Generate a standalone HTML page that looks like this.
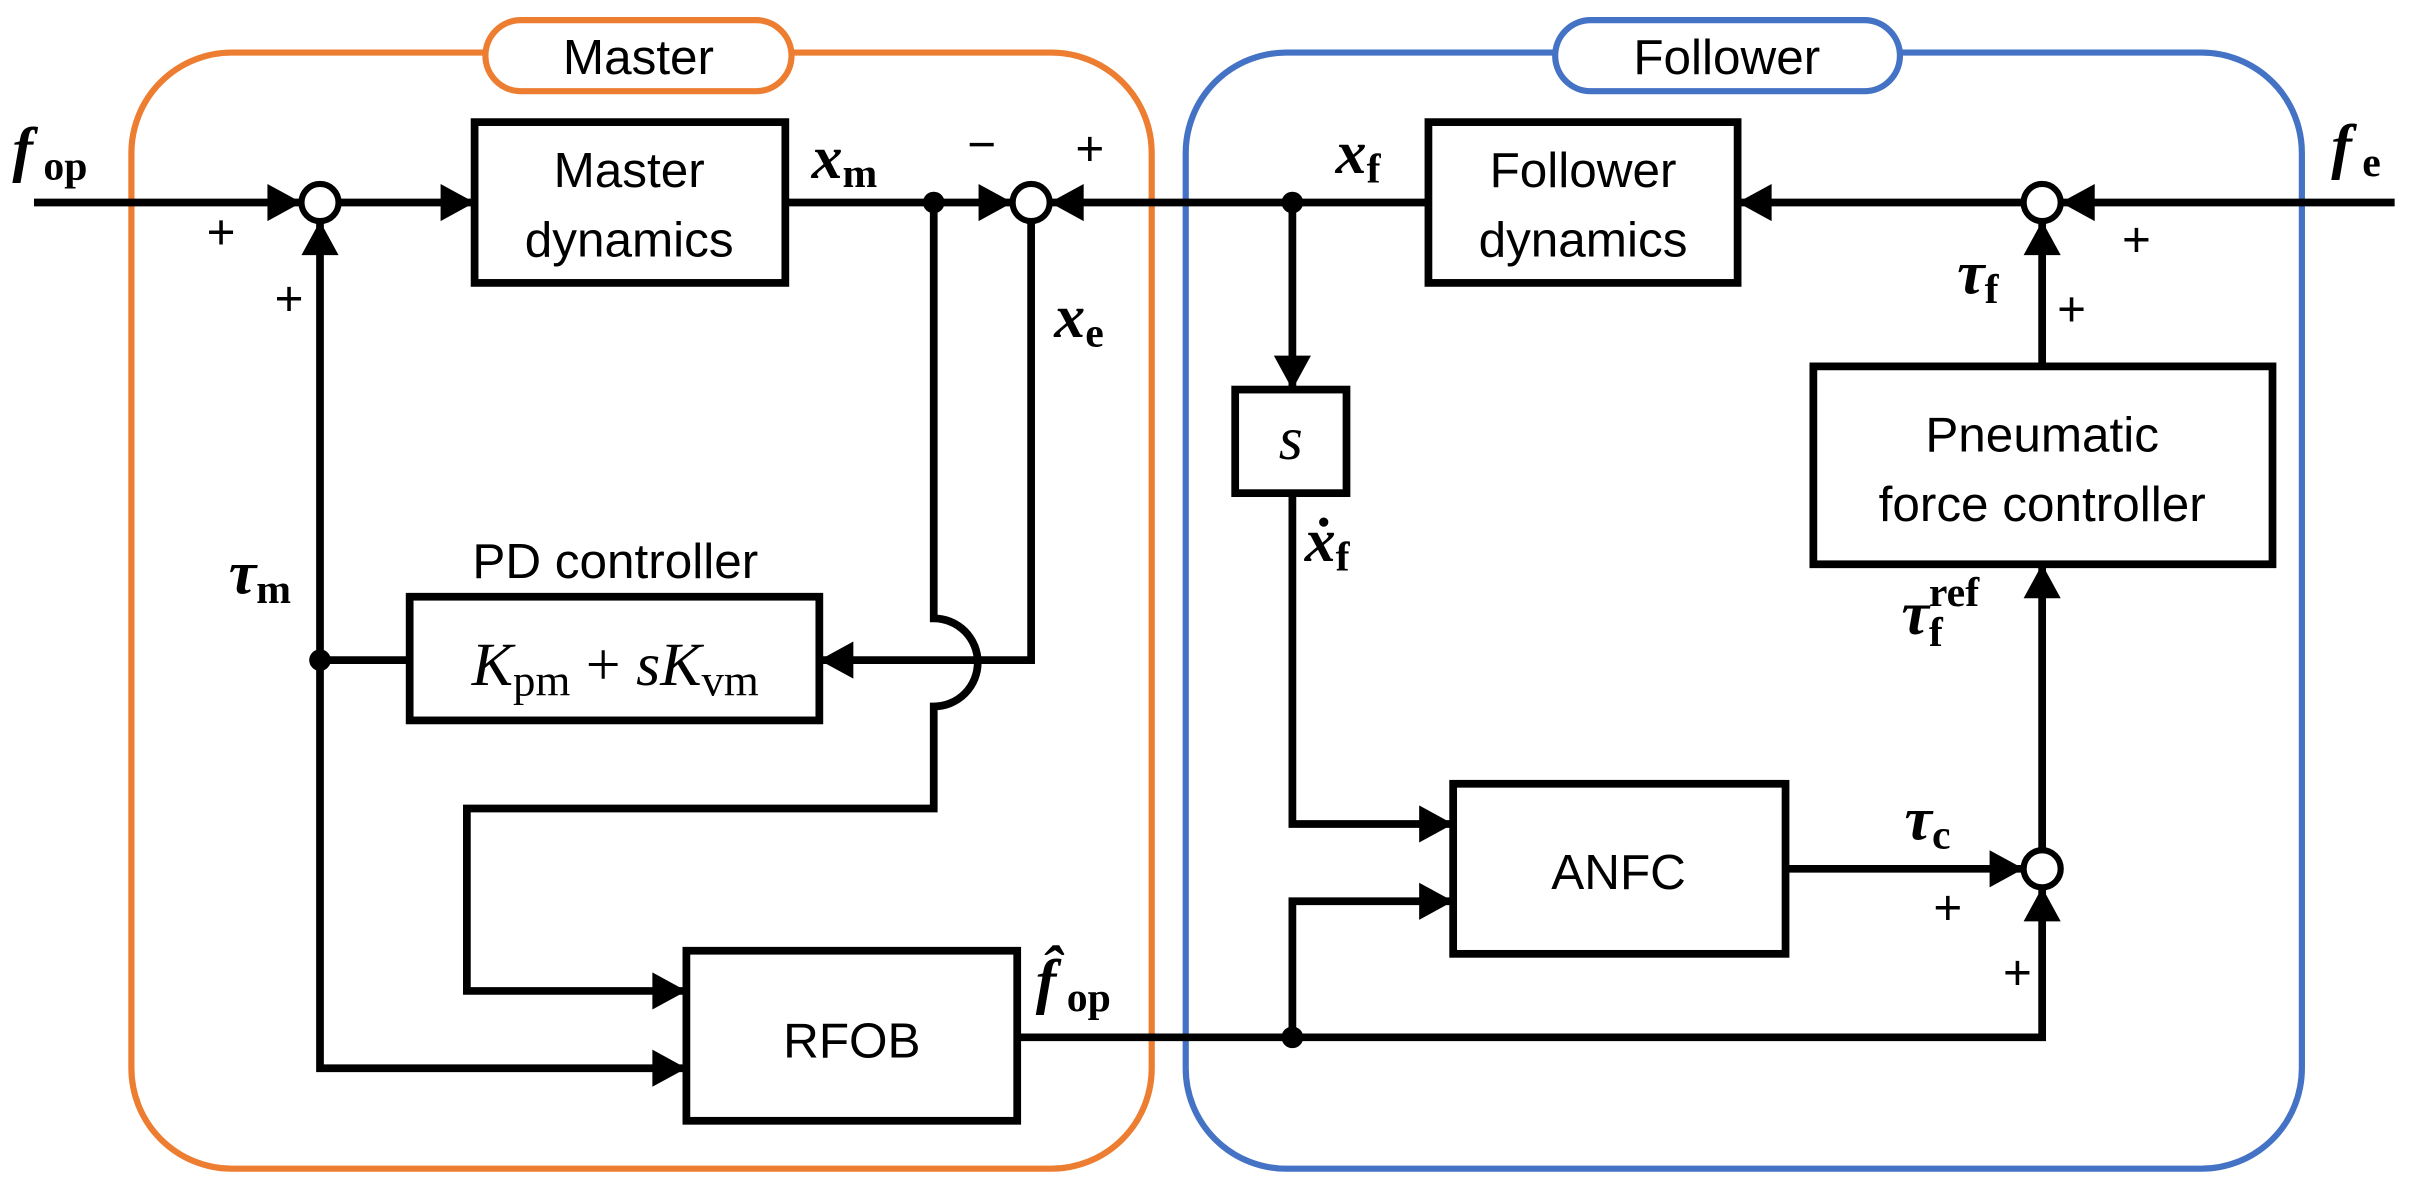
<!DOCTYPE html>
<html><head><meta charset="utf-8"><style>
html,body{margin:0;padding:0;background:#fff;}
svg{display:block;}
.s{font-family:"Liberation Sans",sans-serif;font-size:32px;}
.m{font-family:"Liberation Serif",serif;font-weight:bold;font-style:italic;font-size:40px;}
.sub{font-style:normal;font-size:27px;}
</style></head><body>
<svg width="2424" height="1195" viewBox="0 0 1568 773" preserveAspectRatio="none" xmlns="http://www.w3.org/2000/svg">
<rect x="85" y="34" width="660" height="722" rx="65" fill="none" stroke="#ED7D31" stroke-width="4"/>
<rect x="767" y="34" width="722" height="722" rx="65" fill="none" stroke="#4472C4" stroke-width="4"/>
<rect x="314" y="13" width="198" height="46" rx="23" fill="#fff" stroke="#ED7D31" stroke-width="4"/>
<rect x="1006" y="13" width="223" height="46" rx="23" fill="#fff" stroke="#4472C4" stroke-width="4"/>
<text class="s" x="413" y="48" text-anchor="middle">Master</text>
<text class="s" x="1117" y="48" text-anchor="middle">Follower</text>

<g fill="none" stroke="#000" stroke-width="5">
<path d="M22 131 H195"/>
<path d="M219 131 H307"/>
<path d="M508 131 H655"/>
<path d="M679 131 H924"/>
<path d="M1124 131 H1309"/>
<path d="M1333 131 H1549"/>
<path d="M207 143 V691 H444"/>
<path d="M207 427 H265"/>
<path d="M604 131 V400 A 28 28 0 0 1 604 457 V523 H302 V641 H444"/>
<path d="M667 143 V427 H530"/>
<path d="M658 671 H1321 V574"/>
<path d="M836 671 V583 H940"/>
<path d="M836 131 V252"/>
<path d="M836 319 V533 H940"/>
<path d="M1155 562 H1309"/>
<path d="M1321 550 V365"/>
<path d="M1321 237 V143"/>
</g>
<g fill="#fff" stroke="#000" stroke-width="5">
<rect x="307" y="79" width="201" height="104"/>
<rect x="924" y="79" width="200" height="104"/>
<rect x="265" y="386" width="265" height="80"/>
<rect x="444" y="615" width="214" height="110"/>
<rect x="799" y="252" width="72" height="67"/>
<rect x="940" y="507" width="215" height="110"/>
<rect x="1173" y="237" width="297" height="128"/>
</g>
<g fill="#fff" stroke="#000" stroke-width="4">
<circle cx="207" cy="131" r="12"/>
<circle cx="667" cy="131" r="12"/>
<circle cx="1321" cy="131" r="12"/>
<circle cx="1321" cy="562" r="12"/>
</g>
<g fill="#000">
<circle cx="604" cy="131" r="7"/>
<circle cx="836" cy="131" r="7"/>
<circle cx="207" cy="427" r="7"/>
<circle cx="836" cy="671" r="7"/>
<polygon points="195,131 173,119 173,143"/>
<polygon points="307,131 285,119 285,143"/>
<polygon points="655,131 633,119 633,143"/>
<polygon points="679,131 701,119 701,143"/>
<polygon points="1124,131 1146,119 1146,143"/>
<polygon points="1333,131 1355,119 1355,143"/>
<polygon points="207,143 195,165 219,165"/>
<polygon points="444,691 422,679 422,703"/>
<polygon points="444,641 422,629 422,653"/>
<polygon points="530,427 552,415 552,439"/>
<polygon points="1321,574 1309,596 1333,596"/>
<polygon points="940,583 918,571 918,595"/>
<polygon points="940,533 918,521 918,545"/>
<polygon points="836,252 824,230 848,230"/>
<polygon points="1309,562 1287,550 1287,574"/>
<polygon points="1321,365 1309,387 1333,387"/>
<polygon points="1321,143 1309,165 1333,165"/>
</g>
<g class="s" text-anchor="middle">
<text x="407" y="121">Master</text>
<text x="407" y="166">dynamics</text>
<text x="1024" y="121">Follower</text>
<text x="1024" y="166">dynamics</text>
<text x="398" y="374">PD controller</text>
<text x="551" y="684">RFOB</text>
<text x="1047" y="575">ANFC</text>
<text x="1321" y="292">Pneumatic</text>
<text x="1321" y="337">force controller</text>
</g>
<text x="398" y="443" text-anchor="middle" font-family="Liberation Serif,serif" font-style="italic" font-size="40">K<tspan font-style="normal" font-size="29" dy="7">pm</tspan><tspan font-style="normal" dy="-7"> + </tspan>sK<tspan font-style="normal" font-size="29" dy="7">vm</tspan></text>
<text x="835" y="297" text-anchor="middle" font-family="Liberation Serif,serif" font-style="italic" font-size="40">s</text>
<g class="s">
<text x="143" y="161" text-anchor="middle">+</text>
<text x="187" y="204" text-anchor="middle">+</text>
<text x="635" y="104" text-anchor="middle">−</text>
<text x="705" y="107" text-anchor="middle">+</text>
<text x="1382" y="166" text-anchor="middle">+</text>
<text x="1340" y="211" text-anchor="middle">+</text>
<text x="1260" y="598" text-anchor="middle">+</text>
<text x="1305" y="640" text-anchor="middle">+</text>
</g>
<g class="m">
<text x="8" y="110">f<tspan class="sub" dy="6"> op</tspan></text>
<text x="525" y="115">x<tspan class="sub" dy="6">m</tspan></text>
<text x="682" y="218">x<tspan class="sub" dy="6">e</tspan></text>
<text x="148" y="384">τ<tspan class="sub" dy="6">m</tspan></text>
<text x="864" y="112">x<tspan class="sub" dy="6">f</tspan></text>
<text x="1508" y="108">f<tspan class="sub" dy="6"> e</tspan></text>
<text x="1266" y="190">τ<tspan class="sub" dy="6">f</tspan></text>
<text x="844" y="363">ẋ<tspan class="sub" dy="6">f</tspan></text>
<text x="1230" y="410">τ<tspan class="sub" dy="8">f</tspan><tspan class="sub" dx="-9" dy="-26">ref</tspan></text>
<text x="1232" y="543">τ<tspan class="sub" dy="6">c</tspan></text>
<text x="670" y="648">f̂<tspan class="sub" dy="6"> op</tspan></text>
</g>
</svg>
</body></html>
